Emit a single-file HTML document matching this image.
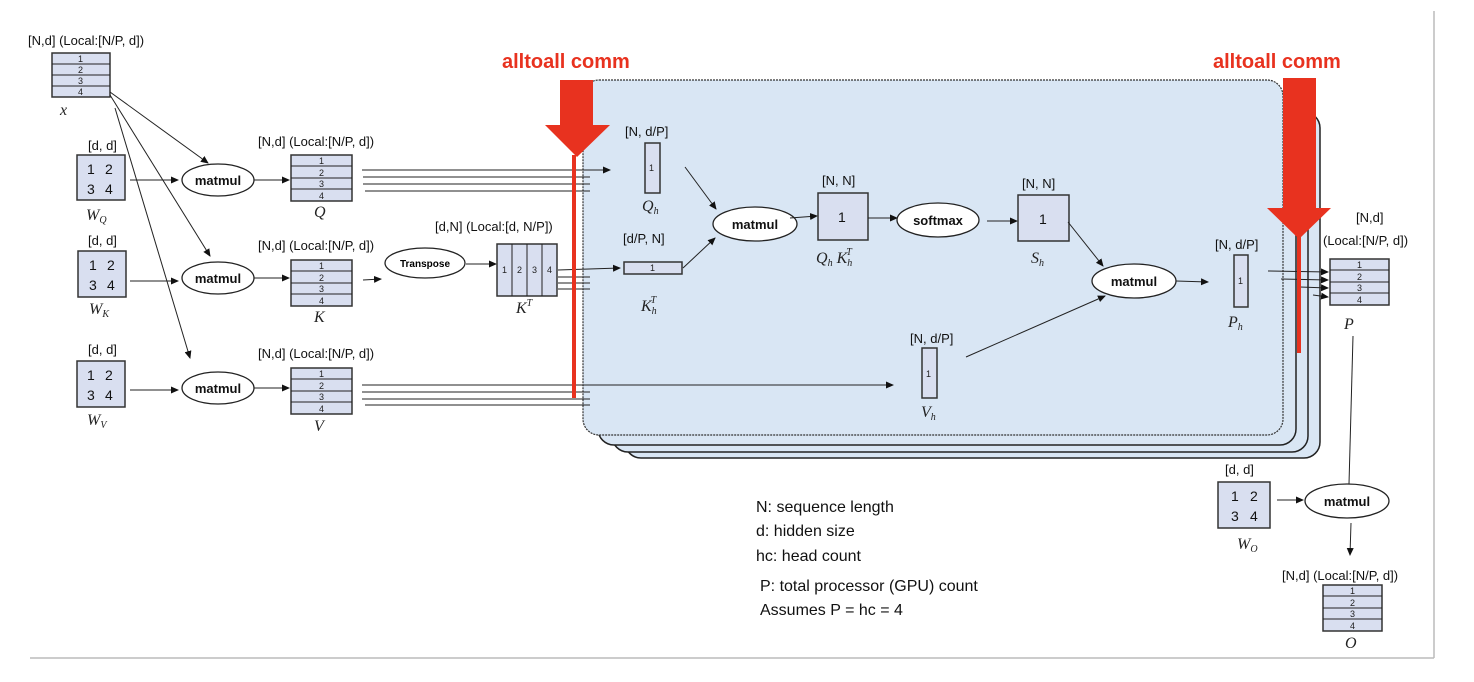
<!DOCTYPE html>
<html><head><meta charset="utf-8"><style>
html,body{margin:0;padding:0;background:#fff;}
svg{display:block;font-family:"Liberation Sans",sans-serif;}
.b{fill:#d9dff0;stroke:#333;stroke-width:1.5}
.l{stroke:#222;stroke-width:1;fill:none}
.e{fill:#fff;stroke:#222;stroke-width:1.3}
.t{font-size:13px;fill:#111}
.n{font-size:14px;fill:#111}
.m{font-size:13px;font-weight:bold;fill:#111}
.i{font-family:"Liberation Serif",serif;font-style:italic;font-size:16px;fill:#222}
.s{font-size:9px;fill:#222}
.g{font-size:16px;fill:#111}
.r{font-size:20px;font-weight:bold;fill:#e8321f}
</style></head><body>
<svg width="1474" height="682" viewBox="0 0 1474 682">
<defs><marker id="a" markerWidth="8" markerHeight="8" refX="7" refY="4" orient="auto" markerUnits="userSpaceOnUse"><path d="M0,0.5 L8,4 L0,7.5z" fill="#111"/></marker></defs>
<line x1="1434" y1="11" x2="1434" y2="658" stroke="#bbb" stroke-width="1.5"/>
<line x1="30" y1="658" x2="1434" y2="658" stroke="#bbb" stroke-width="1.5"/>

<rect x="625" y="112" width="695" height="346" rx="16" fill="#d9e6f4" stroke="#222" stroke-width="1.5"/>
<rect x="612" y="105" width="696" height="347" rx="16" fill="#d9e6f4" stroke="#222" stroke-width="1.5"/>
<rect x="598" y="93" width="698" height="352" rx="16" fill="#d9e6f4" stroke="#222" stroke-width="1.5"/>
<rect x="583" y="80" width="700" height="355" rx="16" fill="#d9e6f4" stroke="#333" stroke-width="1.2" stroke-dasharray="2,1"/>

<text class="t" x="28" y="45">[N,d] (Local:[N/P, d])</text>
<rect class="b" x="52" y="53" width="58" height="44"/>
<line class="l" x1="52" y1="64" x2="110" y2="64"/><line class="l" x1="52" y1="75" x2="110" y2="75"/><line class="l" x1="52" y1="86" x2="110" y2="86"/>
<text class="s" x="78" y="62">1</text><text class="s" x="78" y="73">2</text><text class="s" x="78" y="84">3</text><text class="s" x="78" y="95">4</text>
<text class="i" x="60" y="115">x</text>
<line class="l" x1="110" y1="92" x2="208" y2="163" marker-end="url(#a)"/>
<line class="l" x1="110" y1="95" x2="210" y2="256" marker-end="url(#a)"/>
<line class="l" x1="115" y1="108" x2="190" y2="358" marker-end="url(#a)"/>

<text class="t" x="88" y="150">[d, d]</text>
<rect class="b" x="77" y="155" width="48" height="45"/>
<text class="n" x="87" y="174">1</text><text class="n" x="105" y="174">2</text><text class="n" x="87" y="194">3</text><text class="n" x="105" y="194">4</text>
<text class="i" x="86" y="220">W<tspan font-size="10" dy="3">Q</tspan></text>
<text class="t" x="88" y="245">[d, d]</text>
<rect class="b" x="78" y="251" width="48" height="46"/>
<text class="n" x="89" y="270">1</text><text class="n" x="107" y="270">2</text><text class="n" x="89" y="290">3</text><text class="n" x="107" y="290">4</text>
<text class="i" x="89" y="314">W<tspan font-size="10" dy="3">K</tspan></text>
<text class="t" x="88" y="354">[d, d]</text>
<rect class="b" x="77" y="361" width="48" height="46"/>
<text class="n" x="87" y="380">1</text><text class="n" x="105" y="380">2</text><text class="n" x="87" y="400">3</text><text class="n" x="105" y="400">4</text>
<text class="i" x="87" y="425">W<tspan font-size="10" dy="3">V</tspan></text>

<line class="l" x1="130" y1="180" x2="178" y2="180" marker-end="url(#a)"/>
<line class="l" x1="130" y1="281" x2="178" y2="281" marker-end="url(#a)"/>
<line class="l" x1="130" y1="390" x2="178" y2="390" marker-end="url(#a)"/>
<ellipse class="e" cx="218" cy="180" rx="36" ry="16"/><text class="m" x="218" y="185" text-anchor="middle">matmul</text>
<ellipse class="e" cx="218" cy="278" rx="36" ry="16"/><text class="m" x="218" y="283" text-anchor="middle">matmul</text>
<ellipse class="e" cx="218" cy="388" rx="36" ry="16"/><text class="m" x="218" y="393" text-anchor="middle">matmul</text>
<line class="l" x1="254" y1="180" x2="289" y2="180" marker-end="url(#a)"/>
<line class="l" x1="254" y1="278" x2="289" y2="278" marker-end="url(#a)"/>
<line class="l" x1="254" y1="388" x2="289" y2="388" marker-end="url(#a)"/>

<text class="t" x="258" y="146">[N,d] (Local:[N/P, d])</text>
<rect class="b" x="291" y="155" width="61" height="46"/>
<line class="l" x1="291" y1="166" x2="352" y2="166"/><line class="l" x1="291" y1="178" x2="352" y2="178"/><line class="l" x1="291" y1="189" x2="352" y2="189"/>
<text class="s" x="319" y="164">1</text><text class="s" x="319" y="176">2</text><text class="s" x="319" y="187">3</text><text class="s" x="319" y="199">4</text>
<text class="i" x="314" y="217">Q</text>
<text class="t" x="258" y="250">[N,d] (Local:[N/P, d])</text>
<rect class="b" x="291" y="260" width="61" height="46"/>
<line class="l" x1="291" y1="271" x2="352" y2="271"/><line class="l" x1="291" y1="283" x2="352" y2="283"/><line class="l" x1="291" y1="294" x2="352" y2="294"/>
<text class="s" x="319" y="269">1</text><text class="s" x="319" y="281">2</text><text class="s" x="319" y="292">3</text><text class="s" x="319" y="304">4</text>
<text class="i" x="314" y="322">K</text>
<text class="t" x="258" y="358">[N,d] (Local:[N/P, d])</text>
<rect class="b" x="291" y="368" width="61" height="46"/>
<line class="l" x1="291" y1="379" x2="352" y2="379"/><line class="l" x1="291" y1="391" x2="352" y2="391"/><line class="l" x1="291" y1="402" x2="352" y2="402"/>
<text class="s" x="319" y="377">1</text><text class="s" x="319" y="389">2</text><text class="s" x="319" y="400">3</text><text class="s" x="319" y="412">4</text>
<text class="i" x="314" y="431">V</text>

<line class="l" x1="363" y1="280" x2="381" y2="279" marker-end="url(#a)"/>
<ellipse class="e" cx="425" cy="263" rx="40" ry="15"/><text x="425" y="267" text-anchor="middle" font-size="10" font-weight="bold">Transpose</text>
<line class="l" x1="466" y1="264" x2="496" y2="264" marker-end="url(#a)"/>
<text class="t" x="435" y="231">[d,N] (Local:[d, N/P])</text>
<rect class="b" x="497" y="244" width="60" height="52"/>
<line class="l" x1="512" y1="244" x2="512" y2="296"/><line class="l" x1="527" y1="244" x2="527" y2="296"/><line class="l" x1="542" y1="244" x2="542" y2="296"/>
<text class="s" x="502" y="273">1</text><text class="s" x="517" y="273">2</text><text class="s" x="532" y="273">3</text><text class="s" x="547" y="273">4</text>
<text class="i" x="516" y="313">K<tspan font-size="10" dy="-7">T</tspan></text>

<line class="l" x1="362" y1="170" x2="610" y2="170" marker-end="url(#a)"/>
<line class="l" x1="363" y1="177" x2="590" y2="177"/><line class="l" x1="363" y1="184" x2="590" y2="184"/><line class="l" x1="365" y1="191" x2="590" y2="191"/>
<line class="l" x1="558" y1="270" x2="620" y2="268" marker-end="url(#a)"/>
<line class="l" x1="558" y1="277" x2="590" y2="277"/><line class="l" x1="558" y1="283" x2="590" y2="283"/><line class="l" x1="558" y1="289" x2="590" y2="289"/>
<line class="l" x1="362" y1="385" x2="893" y2="385" marker-end="url(#a)"/>
<line class="l" x1="362" y1="392" x2="590" y2="392"/><line class="l" x1="362" y1="399" x2="590" y2="399"/><line class="l" x1="365" y1="405" x2="590" y2="405"/>

<text class="t" x="625" y="136">[N, d/P]</text>
<rect class="b" x="645" y="143" width="15" height="50"/><text class="s" x="649" y="171">1</text>
<text class="i" x="642" y="211">Q<tspan font-size="10" dy="3">h</tspan></text>
<text class="t" x="623" y="243">[d/P, N]</text>
<rect class="b" x="624" y="262" width="58" height="12"/><text class="s" x="650" y="271">1</text>
<text class="i" x="641" y="311">K<tspan font-size="10" dy="3">h</tspan><tspan font-size="10" dx="-6" dy="-11">T</tspan></text>
<line class="l" x1="685" y1="167" x2="716" y2="209" marker-end="url(#a)"/>
<line class="l" x1="683" y1="268" x2="715" y2="238" marker-end="url(#a)"/>
<ellipse class="e" cx="755" cy="224" rx="42" ry="17"/><text class="m" x="755" y="229" text-anchor="middle">matmul</text>
<line class="l" x1="790" y1="218" x2="817" y2="216" marker-end="url(#a)"/>
<text class="t" x="822" y="185">[N, N]</text>
<rect class="b" x="818" y="193" width="50" height="47"/><text class="n" x="838" y="222">1</text>
<text class="i" x="816" y="263">Q<tspan font-size="10" dy="3">h</tspan><tspan dy="-3"> K</tspan><tspan font-size="10" dy="3">h</tspan><tspan font-size="10" dx="-6" dy="-11">T</tspan></text>
<line class="l" x1="868" y1="218" x2="897" y2="218" marker-end="url(#a)"/>
<ellipse class="e" cx="938" cy="220" rx="41" ry="17"/><text class="m" x="938" y="225" text-anchor="middle">softmax</text>
<line class="l" x1="987" y1="221" x2="1017" y2="221" marker-end="url(#a)"/>
<text class="t" x="1022" y="188">[N, N]</text>
<rect class="b" x="1018" y="195" width="51" height="46"/><text class="n" x="1039" y="224">1</text>
<text class="i" x="1031" y="263">S<tspan font-size="10" dy="3">h</tspan></text>
<line class="l" x1="1068" y1="222" x2="1103" y2="266" marker-end="url(#a)"/>
<ellipse class="e" cx="1134" cy="281" rx="42" ry="17"/><text class="m" x="1134" y="286" text-anchor="middle">matmul</text>
<line class="l" x1="966" y1="357" x2="1105" y2="296" marker-end="url(#a)"/>
<line class="l" x1="1176" y1="281" x2="1208" y2="282" marker-end="url(#a)"/>
<text class="t" x="1215" y="249">[N, d/P]</text>
<rect class="b" x="1234" y="255" width="14" height="52"/><text class="s" x="1238" y="284">1</text>
<text class="i" x="1228" y="327">P<tspan font-size="10" dy="3">h</tspan></text>
<text class="t" x="910" y="343">[N, d/P]</text>
<rect class="b" x="922" y="348" width="15" height="50"/><text class="s" x="926" y="377">1</text>
<text class="i" x="921" y="417">V<tspan font-size="10" dy="3">h</tspan></text>

<line class="l" x1="1268" y1="271" x2="1328" y2="272" marker-end="url(#a)"/>
<line class="l" x1="1281" y1="279" x2="1328" y2="280" marker-end="url(#a)"/>
<line class="l" x1="1300" y1="287" x2="1328" y2="288" marker-end="url(#a)"/>
<line class="l" x1="1313" y1="295" x2="1328" y2="297" marker-end="url(#a)"/>
<text class="t" x="1356" y="222">[N,d]</text>
<text class="t" x="1323" y="245">(Local:[N/P, d])</text>
<rect class="b" x="1330" y="259" width="59" height="46"/>
<line class="l" x1="1330" y1="270" x2="1389" y2="270"/><line class="l" x1="1330" y1="282" x2="1389" y2="282"/><line class="l" x1="1330" y1="293" x2="1389" y2="293"/>
<text class="s" x="1357" y="268">1</text><text class="s" x="1357" y="280">2</text><text class="s" x="1357" y="291">3</text><text class="s" x="1357" y="303">4</text>
<text class="i" x="1344" y="329">P</text>
<line class="l" x1="1353" y1="336" x2="1349" y2="484"/>

<text class="t" x="1225" y="474">[d, d]</text>
<rect class="b" x="1218" y="482" width="52" height="46"/>
<text class="n" x="1231" y="501">1</text><text class="n" x="1250" y="501">2</text><text class="n" x="1231" y="521">3</text><text class="n" x="1250" y="521">4</text>
<text class="i" x="1237" y="549">W<tspan font-size="10" dy="3">O</tspan></text>
<line class="l" x1="1277" y1="500" x2="1303" y2="500" marker-end="url(#a)"/>
<ellipse class="e" cx="1347" cy="501" rx="42" ry="17"/><text class="m" x="1347" y="506" text-anchor="middle">matmul</text>
<line class="l" x1="1351" y1="523" x2="1350" y2="555" marker-end="url(#a)"/>
<text class="t" x="1282" y="580">[N,d] (Local:[N/P, d])</text>
<rect class="b" x="1323" y="585" width="59" height="46"/>
<line class="l" x1="1323" y1="596" x2="1382" y2="596"/><line class="l" x1="1323" y1="608" x2="1382" y2="608"/><line class="l" x1="1323" y1="619" x2="1382" y2="619"/>
<text class="s" x="1350" y="594">1</text><text class="s" x="1350" y="606">2</text><text class="s" x="1350" y="617">3</text><text class="s" x="1350" y="629">4</text>
<text class="i" x="1345" y="648">O</text>

<text class="g" x="756" y="512">N: sequence length</text>
<text class="g" x="756" y="536">d: hidden size</text>
<text class="g" x="756" y="561">hc: head count</text>
<text class="g" x="760" y="591">P: total processor (GPU) count</text>
<text class="g" x="760" y="615">Assumes P = hc = 4</text>

<text class="r" x="502" y="68">alltoall comm</text>
<rect x="560" y="80" width="33" height="46" fill="#e8321f"/>
<polygon points="545,125 610,125 577,157" fill="#e8321f"/>
<rect x="572" y="155" width="4" height="243" fill="#e8321f"/>
<text class="r" x="1213" y="68">alltoall comm</text>
<rect x="1283" y="78" width="33" height="132" fill="#e8321f"/>
<polygon points="1267,208 1331,208 1299,239" fill="#e8321f"/>
<rect x="1297" y="237" width="4" height="116" fill="#e8321f"/>
</svg>
</body></html>
